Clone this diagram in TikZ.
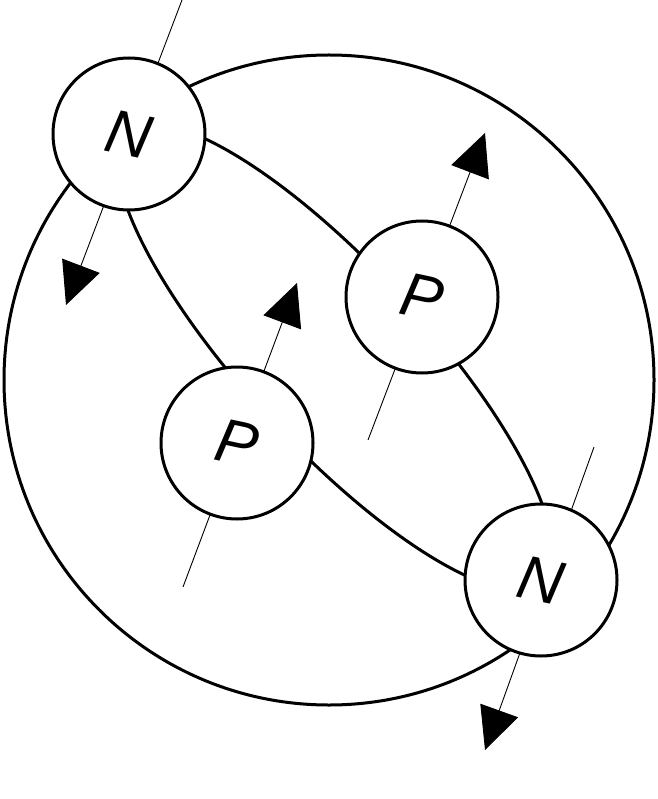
\documentclass[tikz,border=0pt]{standalone}
\usepackage{fontspec}
\setmainfont{Liberation Sans}
\usetikzlibrary{arrows.meta}
\begin{document}
\begin{tikzpicture}[x=1pt,y=1pt,
  thick line/.style={line width=3pt},
  spin/.style={line width=0.9pt,-{Triangle[length=42pt,width=40pt]}},
  nuc/.style={circle,draw,line width=3pt,fill=white,minimum size=152pt,inner sep=0pt,font=\fontsize{62}{62}\selectfont\itshape}]
\useasboundingbox (0,0) rectangle (657,-799);
\node[circle,draw,line width=3pt,minimum size=650pt,inner sep=0pt] (big) at (329,-380) {};
\draw[thick line,rotate around={-47.3:(335,-357)}] (335,-357) ellipse [x radius=306, y radius=90];
\coordinate (s1a) at (182,0); \coordinate (s1b) at (66,-305);
\coordinate (s2a) at (368,-440); \coordinate (s2b) at (485,-133);
\coordinate (s3a) at (183,-587); \coordinate (s3b) at (297,-283);
\coordinate (s4a) at (594,-447); \coordinate (s4b) at (485,-750);
\draw[spin] (s1a) -- (s1b);
\draw[spin] (s2a) -- (s2b);
\draw[spin] (s3a) -- (s3b);
\draw[spin] (s4a) -- (s4b);
\node[nuc] (n1) at (129,-134) {\rotatebox{-12}{N}};
\node[nuc] (p1) at (422,-297) {\rotatebox{-12}{P}};
\node[nuc] (p2) at (237,-443) {\rotatebox{-12}{P}};
\node[nuc] (n2) at (541,-580) {\rotatebox{-12}{N}};
\end{tikzpicture}
\end{document}
